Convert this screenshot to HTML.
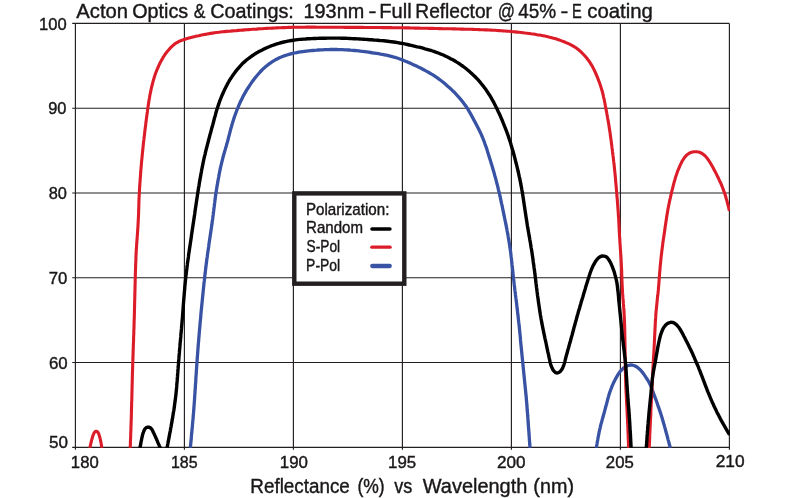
<!DOCTYPE html><html><head><meta charset="utf-8"><title>Acton Optics &amp; Coatings</title>
<style>html,body{margin:0;padding:0;background:#fff}svg{display:block;will-change:transform;transform:translateZ(0)}text{font-family:"Liberation Sans",sans-serif;fill:#1a1718;stroke:#1a1718;stroke-width:0.4px}</style></head><body>
<svg width="791" height="498" viewBox="0 0 791 498">
<rect width="791" height="498" fill="#fff"/>
<path d="M75.4 23.4 V449.7 M184.4 23.4 V449.7 M293.4 23.4 V449.7 M402.4 23.4 V449.7 M511.4 23.4 V449.7 M620.4 23.4 V449.7 M729.4 23.4 V449.7 M72.2 23.4 H729.4 M72.2 108.2 H729.4 M72.2 193.0 H729.4 M72.2 277.7 H729.4 M72.2 362.5 H729.4 M72.2 447.3 H729.4" fill="none" stroke="#231f20" stroke-width="1.15"/>
<defs><clipPath id="c"><rect x="73.4" y="20.4" width="656.6" height="427.3"/></clipPath></defs>
<g clip-path="url(#c)" fill="none" stroke-linejoin="round" stroke-linecap="butt">
<path d="M190.3 448.0L190.5 446.0L190.7 444.0L190.9 442.0L191.1 440.0L191.3 438.0L191.4 436.0L191.6 434.0L191.8 432.0L192.0 430.0L192.2 428.0L192.4 426.0L192.5 424.1L192.7 422.1L192.9 420.1L193.1 418.1L193.2 416.1L193.4 414.1L193.6 412.1L193.7 410.1L193.9 408.1L194.0 406.1L194.2 404.1L194.3 402.1L194.5 400.1L194.6 398.1L194.7 396.1L194.9 394.1L195.0 392.1L195.1 390.1L195.3 388.1L195.4 386.1L195.5 384.1L195.7 382.1L195.8 380.1L195.9 378.1L196.0 376.1L196.2 374.1L196.3 372.1L196.4 370.1L196.6 368.1L196.7 366.1L196.8 364.1L197.0 362.1L197.1 360.1L197.3 358.1L197.4 356.1L197.6 354.1L197.7 352.1L197.9 350.1L198.0 348.1L198.2 346.1L198.3 344.1L198.5 342.1L198.7 340.1L198.8 338.1L199.0 336.1L199.2 334.1L199.3 332.1L199.5 330.1L199.7 328.1L199.9 326.1L200.0 324.1L200.2 322.1L200.4 320.1L200.6 318.1L200.8 316.1L200.9 314.1L201.1 312.1L201.3 310.1L201.5 308.1L201.7 306.2L201.9 304.2L202.1 302.2L202.3 300.2L202.5 298.2L202.7 296.2L202.9 294.2L203.1 292.2L203.3 290.2L203.5 288.2L203.7 286.2L203.9 284.2L204.1 282.2L204.4 280.2L204.6 278.2L204.8 276.2L205.0 274.3L205.3 272.3L205.5 270.3L205.7 268.3L206.0 266.3L206.2 264.3L206.5 262.3L206.7 260.3L207.0 258.3L207.3 256.4L207.5 254.4L207.8 252.4L208.1 250.4L208.4 248.4L208.7 246.4L208.9 244.4L209.2 242.5L209.5 240.5L209.8 238.5L210.1 236.5L210.4 234.5L210.7 232.6L211.0 230.6L211.3 228.6L211.6 226.6L211.9 224.6L212.1 222.6L212.4 220.6L212.7 218.7L212.9 216.7L213.2 214.7L213.4 212.7L213.7 210.7L213.9 208.7L214.2 206.7L214.4 204.7L214.7 202.7L214.9 200.8L215.2 198.8L215.4 196.8L215.7 194.8L216.0 192.8L216.3 190.8L216.6 188.9L216.9 186.9L217.3 184.9L217.6 182.9L218.0 180.9L218.3 179.0L218.7 177.0L219.0 175.0L219.4 173.1L219.8 171.1L220.2 169.1L220.6 167.2L221.1 165.2L221.5 163.3L222.0 161.3L222.5 159.4L223.0 157.4L223.5 155.5L224.1 153.6L224.6 151.6L225.2 149.7L225.7 147.8L226.3 145.9L226.8 143.9L227.4 142.0L227.9 140.1L228.4 138.1L228.9 136.2L229.4 134.3L229.9 132.3L230.4 130.4L230.9 128.4L231.5 126.5L232.0 124.6L232.6 122.6L233.2 120.7L233.8 118.8L234.4 116.9L235.1 115.0L235.8 113.2L236.5 111.3L237.2 109.4L238.0 107.6L238.7 105.7L239.5 103.9L240.3 102.0L241.2 100.2L242.1 98.4L243.0 96.6L243.9 94.8L244.9 93.1L245.9 91.4L246.9 89.7L248.0 88.0L249.1 86.3L250.2 84.6L251.4 82.9L252.5 81.3L253.7 79.7L254.9 78.1L256.2 76.5L257.5 75.0L258.8 73.5L260.1 72.0L261.5 70.5L262.9 69.1L264.4 67.8L265.9 66.4L267.5 65.2L269.1 63.9L270.7 62.8L272.4 61.7L274.1 60.6L275.8 59.6L277.6 58.7L279.4 57.8L281.3 57.0L283.1 56.3L285.0 55.6L286.9 55.0L288.9 54.4L290.8 53.9L292.8 53.4L294.7 53.0L296.7 52.6L298.7 52.2L300.6 51.9L302.6 51.6L304.6 51.3L306.6 51.1L308.6 50.9L310.6 50.7L312.6 50.5L314.6 50.3L316.6 50.2L318.6 50.0L320.6 49.9L322.6 49.8L324.6 49.7L326.6 49.6L328.6 49.6L330.6 49.5L332.6 49.5L334.6 49.5L336.6 49.5L338.6 49.6L340.6 49.6L342.6 49.7L344.6 49.8L346.6 49.9L348.6 50.0L350.6 50.2L352.6 50.3L354.6 50.5L356.6 50.7L358.6 50.9L360.6 51.2L362.6 51.4L364.6 51.6L366.6 51.9L368.6 52.2L370.6 52.5L372.5 52.8L374.5 53.1L376.5 53.4L378.5 53.7L380.5 54.1L382.4 54.4L384.4 54.8L386.4 55.2L388.3 55.6L390.3 56.1L392.2 56.6L394.1 57.2L396.1 57.7L398.0 58.3L399.9 59.0L401.7 59.7L403.6 60.4L405.5 61.2L407.3 61.9L409.2 62.7L411.0 63.6L412.8 64.4L414.6 65.2L416.5 66.1L418.3 67.0L420.1 67.8L421.9 68.7L423.7 69.7L425.4 70.6L427.2 71.6L428.9 72.5L430.7 73.6L432.4 74.6L434.1 75.7L435.8 76.8L437.4 77.9L439.0 79.1L440.6 80.3L442.2 81.5L443.8 82.8L445.3 84.1L446.8 85.4L448.3 86.7L449.8 88.0L451.3 89.4L452.7 90.8L454.2 92.2L455.6 93.7L456.9 95.1L458.3 96.6L459.6 98.1L460.9 99.6L462.2 101.2L463.4 102.8L464.6 104.4L465.8 106.0L466.9 107.7L468.0 109.4L469.0 111.1L470.0 112.8L471.0 114.6L471.9 116.3L472.9 118.1L473.8 119.9L474.8 121.6L475.7 123.4L476.7 125.2L477.6 127.0L478.5 128.8L479.4 130.6L480.3 132.4L481.1 134.2L481.9 136.0L482.7 137.8L483.4 139.7L484.2 141.6L484.8 143.5L485.5 145.3L486.2 147.2L486.8 149.1L487.4 151.1L488.0 153.0L488.6 154.9L489.2 156.8L489.8 158.7L490.4 160.6L491.0 162.6L491.6 164.5L492.2 166.4L492.7 168.3L493.3 170.2L493.9 172.2L494.4 174.1L494.9 176.0L495.5 177.9L496.0 179.9L496.5 181.8L497.0 183.8L497.5 185.7L498.0 187.7L498.4 189.6L498.9 191.5L499.4 193.5L499.8 195.5L500.3 197.4L500.7 199.4L501.1 201.3L501.5 203.3L502.0 205.2L502.4 207.2L502.8 209.2L503.2 211.1L503.6 213.1L504.0 215.1L504.4 217.0L504.8 219.0L505.2 221.0L505.6 222.9L506.0 224.9L506.4 226.9L506.8 228.8L507.1 230.8L507.5 232.8L507.9 234.7L508.2 236.7L508.6 238.7L508.9 240.7L509.2 242.6L509.5 244.6L509.8 246.6L510.1 248.6L510.4 250.6L510.7 252.5L510.9 254.5L511.1 256.5L511.4 258.5L511.6 260.5L511.8 262.5L512.0 264.5L512.3 266.5L512.5 268.5L512.7 270.5L512.9 272.5L513.1 274.5L513.3 276.5L513.5 278.4L513.8 280.4L514.0 282.4L514.2 284.4L514.5 286.4L514.7 288.4L514.9 290.4L515.2 292.4L515.4 294.4L515.7 296.4L515.9 298.4L516.2 300.3L516.4 302.3L516.7 304.3L516.9 306.3L517.1 308.3L517.4 310.3L517.6 312.3L517.8 314.3L518.1 316.3L518.3 318.3L518.5 320.2L518.7 322.2L519.0 324.2L519.2 326.2L519.4 328.2L519.6 330.2L519.8 332.2L520.0 334.2L520.2 336.2L520.4 338.2L520.5 340.2L520.7 342.2L520.9 344.2L521.1 346.2L521.3 348.2L521.5 350.2L521.7 352.2L521.9 354.2L522.1 356.1L522.3 358.1L522.5 360.1L522.7 362.1L522.9 364.1L523.1 366.1L523.3 368.1L523.5 370.1L523.7 372.1L523.9 374.1L524.1 376.1L524.3 378.1L524.5 380.1L524.7 382.1L524.9 384.1L525.1 386.1L525.3 388.1L525.5 390.0L525.7 392.0L525.9 394.0L526.1 396.0L526.3 398.0L526.4 400.0L526.6 402.0L526.8 404.0L526.9 406.0L527.1 408.0L527.2 410.0L527.4 412.0L527.6 414.0L527.7 416.0L527.9 418.0L528.0 420.0L528.1 422.0L528.3 424.0L528.4 426.0L528.6 428.0L528.7 430.0L528.9 432.0L529.0 434.0L529.2 436.0L529.3 438.0L529.4 440.0L529.6 442.0L529.7 444.0L529.9 446.0L530.0 448.0" stroke="#3852a4" stroke-width="3.3"/>
<path d="M596.3 448.0L596.6 446.0L597.0 444.0L597.3 442.0L597.7 440.0L598.0 438.0L598.4 436.0L598.8 434.0L599.2 432.0L599.6 430.0L600.1 428.1L600.5 426.1L601.0 424.1L601.6 422.2L602.1 420.2L602.6 418.3L603.2 416.3L603.7 414.3L604.3 412.4L604.8 410.4L605.3 408.5L605.8 406.5L606.4 404.5L606.9 402.6L607.4 400.6L607.9 398.6L608.5 396.7L609.0 394.7L609.6 392.8L610.3 390.9L611.0 389.0L611.7 387.1L612.5 385.2L613.3 383.4L614.2 381.5L615.1 379.7L616.1 377.9L617.1 376.1L618.1 374.4L619.3 372.7L620.5 371.1L621.9 369.6L623.4 368.2L625.1 367.0L626.9 366.0L628.8 365.3L630.7 365.0L632.7 365.2L634.6 365.8L636.4 366.7L638.1 367.9L639.6 369.2L641.0 370.7L642.4 372.3L643.6 373.9L644.8 375.6L645.9 377.3L647.0 379.0L648.1 380.7L649.1 382.5L650.0 384.3L650.9 386.1L651.6 388.0L652.3 389.9L653.0 391.8L653.7 393.7L654.4 395.6L655.0 397.5L655.8 399.4L656.5 401.3L657.2 403.2L657.8 405.1L658.5 407.1L659.2 409.0L659.8 410.9L660.5 412.8L661.1 414.8L661.7 416.7L662.3 418.6L662.8 420.6L663.4 422.5L664.0 424.5L664.5 426.4L665.1 428.4L665.6 430.4L666.1 432.3L666.7 434.3L667.2 436.2L667.7 438.2L668.2 440.1L668.8 442.1L669.3 444.1L669.8 446.0L670.3 448.0" stroke="#3852a4" stroke-width="3.3"/>
<path d="M89.8 448.4L89.9 447.7L90.1 447.0L90.2 446.3L90.4 445.5L90.5 444.8L90.7 444.1L90.9 443.4L91.0 442.7L91.2 442.0L91.4 441.3L91.5 440.6L91.7 439.9L91.9 439.2L92.1 438.5L92.3 437.8L92.5 437.1L92.7 436.4L92.9 435.7L93.2 435.0L93.5 434.3L93.7 433.6L94.1 432.9L94.5 432.3L95.0 431.8L95.5 431.4L96.1 431.2L96.7 431.3L97.3 431.6L97.8 432.2L98.2 432.8L98.5 433.4L98.8 434.2L99.1 434.9L99.3 435.6L99.5 436.3L99.7 437.0L99.9 437.7L100.1 438.4L100.2 439.1L100.4 439.8L100.5 440.5L100.7 441.2L100.8 441.9L101.0 442.6L101.1 443.4L101.2 444.1L101.3 444.8L101.5 445.5L101.6 446.2L101.7 447.0L101.8 447.7L101.9 448.4" stroke="#dc1c28" stroke-width="3.1"/>
<path d="M130.2 448.0L130.3 446.0L130.4 444.0L130.4 442.0L130.5 440.0L130.6 438.0L130.7 436.0L130.7 434.0L130.8 432.0L130.9 430.0L130.9 428.0L131.0 426.0L131.1 423.9L131.1 421.9L131.2 419.9L131.3 417.9L131.3 415.9L131.4 413.9L131.4 411.9L131.5 409.9L131.5 407.9L131.6 405.9L131.6 403.9L131.7 401.9L131.8 399.9L131.8 397.9L131.9 395.9L131.9 393.9L132.0 391.9L132.0 389.9L132.1 387.9L132.1 385.9L132.2 383.9L132.2 381.8L132.3 379.8L132.3 377.8L132.4 375.8L132.4 373.8L132.5 371.8L132.6 369.8L132.6 367.8L132.7 365.8L132.7 363.8L132.8 361.8L132.9 359.8L132.9 357.8L133.0 355.8L133.1 353.8L133.1 351.8L133.2 349.8L133.3 347.8L133.3 345.8L133.4 343.8L133.5 341.8L133.6 339.8L133.6 337.8L133.7 335.7L133.8 333.7L133.8 331.7L133.9 329.7L134.0 327.7L134.0 325.7L134.1 323.7L134.1 321.7L134.2 319.7L134.3 317.7L134.3 315.7L134.4 313.7L134.4 311.7L134.5 309.7L134.5 307.7L134.6 305.7L134.6 303.7L134.7 301.7L134.7 299.7L134.8 297.7L134.8 295.7L134.9 293.6L134.9 291.6L135.0 289.6L135.0 287.6L135.1 285.6L135.1 283.6L135.2 281.6L135.2 279.6L135.3 277.6L135.3 275.6L135.4 273.6L135.4 271.6L135.5 269.6L135.6 267.6L135.6 265.6L135.7 263.6L135.8 261.6L135.9 259.6L135.9 257.6L136.0 255.6L136.1 253.6L136.2 251.6L136.3 249.6L136.5 247.5L136.6 245.5L136.7 243.5L136.9 241.5L137.0 239.5L137.2 237.5L137.3 235.5L137.5 233.5L137.6 231.5L137.7 229.5L137.9 227.5L138.0 225.5L138.1 223.5L138.2 221.5L138.3 219.5L138.4 217.5L138.5 215.5L138.6 213.5L138.6 211.5L138.7 209.5L138.8 207.5L138.8 205.5L138.9 203.5L138.9 201.5L139.0 199.5L139.1 197.5L139.2 195.5L139.3 193.5L139.4 191.5L139.5 189.5L139.6 187.5L139.8 185.5L139.9 183.5L140.0 181.5L140.2 179.5L140.3 177.5L140.5 175.5L140.6 173.5L140.8 171.5L140.9 169.5L141.1 167.5L141.3 165.5L141.4 163.5L141.6 161.5L141.8 159.5L142.0 157.5L142.2 155.5L142.4 153.5L142.6 151.5L142.8 149.5L143.0 147.5L143.2 145.5L143.4 143.5L143.6 141.5L143.9 139.5L144.1 137.5L144.4 135.6L144.6 133.6L144.8 131.6L145.1 129.6L145.3 127.6L145.6 125.6L145.8 123.6L146.1 121.6L146.3 119.6L146.6 117.6L146.8 115.7L147.1 113.7L147.4 111.7L147.6 109.7L147.9 107.7L148.2 105.7L148.5 103.7L148.8 101.7L149.1 99.8L149.5 97.8L149.8 95.8L150.2 93.8L150.6 91.9L151.0 89.9L151.4 88.0L151.9 86.0L152.4 84.0L152.9 82.1L153.4 80.2L154.0 78.3L154.6 76.3L155.2 74.4L155.9 72.5L156.6 70.7L157.4 68.8L158.2 67.0L159.0 65.1L159.9 63.3L160.8 61.6L161.8 59.8L162.8 58.0L163.8 56.3L164.9 54.7L166.1 53.0L167.3 51.4L168.6 49.9L169.9 48.4L171.4 46.9L172.8 45.6L174.4 44.3L176.0 43.1L177.8 42.1L179.5 41.2L181.4 40.4L183.3 39.8L185.2 39.2L187.1 38.6L189.1 38.0L191.0 37.5L193.0 37.0L194.9 36.6L196.9 36.1L198.8 35.7L200.8 35.2L202.7 34.8L204.7 34.4L206.7 34.1L208.7 33.7L210.6 33.4L212.6 33.1L214.6 32.8L216.6 32.5L218.6 32.3L220.6 32.0L222.6 31.8L224.6 31.6L226.6 31.4L228.5 31.2L230.5 31.1L232.5 30.9L234.5 30.7L236.5 30.6L238.5 30.4L240.5 30.3L242.5 30.1L244.5 29.9L246.5 29.8L248.5 29.6L250.5 29.5L252.5 29.3L254.5 29.2L256.5 29.1L258.5 28.9L260.5 28.8L262.5 28.7L264.5 28.5L266.6 28.4L268.6 28.3L270.6 28.2L272.6 28.1L274.6 28.0L276.6 27.9L278.6 27.8L280.6 27.7L282.6 27.6L284.6 27.6L286.6 27.5L288.6 27.4L290.6 27.4L292.6 27.3L294.6 27.3L296.6 27.2L298.6 27.2L300.6 27.2L302.6 27.2L304.6 27.2L306.6 27.1L308.6 27.1L310.6 27.1L312.7 27.1L314.7 27.1L316.7 27.2L318.7 27.2L320.7 27.2L322.7 27.2L324.7 27.2L326.7 27.2L328.7 27.2L330.7 27.3L332.7 27.3L334.7 27.3L336.7 27.3L338.7 27.3L340.7 27.3L342.7 27.3L344.7 27.4L346.7 27.4L348.8 27.4L350.8 27.4L352.8 27.4L354.8 27.4L356.8 27.4L358.8 27.4L360.8 27.4L362.8 27.4L364.8 27.5L366.8 27.5L368.8 27.5L370.8 27.5L372.8 27.5L374.8 27.5L376.8 27.5L378.8 27.5L380.8 27.5L382.8 27.6L384.9 27.6L386.9 27.6L388.9 27.6L390.9 27.6L392.9 27.7L394.9 27.7L396.9 27.7L398.9 27.8L400.9 27.8L402.9 27.8L404.9 27.9L406.9 27.9L408.9 27.9L410.9 28.0L412.9 28.0L414.9 28.1L416.9 28.1L418.9 28.1L420.9 28.2L423.0 28.2L425.0 28.3L427.0 28.3L429.0 28.4L431.0 28.4L433.0 28.4L435.0 28.5L437.0 28.5L439.0 28.6L441.0 28.6L443.0 28.7L445.0 28.7L447.0 28.7L449.0 28.8L451.0 28.8L453.0 28.9L455.0 28.9L457.0 29.0L459.0 29.0L461.0 29.1L463.1 29.1L465.1 29.2L467.1 29.2L469.1 29.3L471.1 29.3L473.1 29.4L475.1 29.5L477.1 29.5L479.1 29.6L481.1 29.7L483.1 29.8L485.1 29.9L487.1 29.9L489.1 30.0L491.1 30.1L493.1 30.2L495.1 30.3L497.1 30.5L499.1 30.6L501.1 30.7L503.1 30.9L505.1 31.0L507.1 31.2L509.1 31.3L511.1 31.5L513.1 31.7L515.1 31.9L517.1 32.1L519.1 32.3L521.1 32.5L523.1 32.7L525.1 33.0L527.1 33.2L529.1 33.5L531.0 33.8L533.0 34.0L535.0 34.3L537.0 34.7L539.0 35.0L541.0 35.3L542.9 35.7L544.9 36.1L546.9 36.5L548.8 37.0L550.8 37.4L552.7 38.0L554.6 38.5L556.6 39.1L558.5 39.7L560.4 40.4L562.2 41.1L564.1 41.8L566.0 42.6L567.8 43.4L569.6 44.2L571.4 45.1L573.2 46.1L574.9 47.1L576.6 48.3L578.2 49.5L579.7 50.7L581.2 52.1L582.6 53.5L584.0 55.0L585.4 56.5L586.7 58.0L587.9 59.6L589.1 61.2L590.2 62.9L591.3 64.6L592.3 66.3L593.2 68.1L594.1 69.9L595.0 71.7L595.8 73.5L596.6 75.4L597.4 77.2L598.1 79.1L598.8 81.0L599.5 82.8L600.2 84.7L600.8 86.6L601.4 88.6L602.0 90.5L602.5 92.4L603.0 94.4L603.4 96.3L603.9 98.3L604.3 100.2L604.7 102.2L605.1 104.2L605.4 106.1L605.8 108.1L606.2 110.1L606.6 112.1L606.9 114.0L607.3 116.0L607.6 118.0L608.0 120.0L608.3 121.9L608.7 123.9L609.0 125.9L609.3 127.9L609.6 129.9L609.9 131.8L610.2 133.8L610.4 135.8L610.7 137.8L611.0 139.8L611.3 141.8L611.5 143.8L611.8 145.7L612.0 147.7L612.3 149.7L612.5 151.7L612.8 153.7L613.0 155.7L613.3 157.7L613.5 159.7L613.7 161.7L614.0 163.7L614.2 165.7L614.4 167.7L614.6 169.6L614.8 171.6L615.0 173.6L615.2 175.6L615.4 177.6L615.6 179.6L615.7 181.6L615.9 183.6L616.1 185.6L616.3 187.6L616.4 189.6L616.6 191.6L616.8 193.6L616.9 195.6L617.1 197.6L617.3 199.6L617.4 201.6L617.6 203.6L617.7 205.6L617.9 207.6L618.0 209.6L618.2 211.6L618.3 213.6L618.4 215.6L618.6 217.6L618.7 219.6L618.8 221.6L618.9 223.6L619.0 225.6L619.1 227.6L619.2 229.6L619.3 231.6L619.4 233.6L619.5 235.6L619.7 237.6L619.8 239.6L619.9 241.6L620.0 243.6L620.2 245.6L620.3 247.6L620.4 249.6L620.6 251.6L620.7 253.6L620.8 255.7L621.0 257.7L621.1 259.7L621.2 261.7L621.3 263.7L621.4 265.7L621.5 267.7L621.6 269.7L621.7 271.7L621.7 273.7L621.8 275.7L621.9 277.7L621.9 279.7L622.0 281.7L622.1 283.7L622.2 285.7L622.3 287.7L622.4 289.7L622.5 291.7L622.6 293.7L622.8 295.7L622.9 297.7L623.1 299.7L623.3 301.7L623.4 303.7L623.6 305.7L623.7 307.7L623.9 309.7L624.0 311.7L624.1 313.7L624.2 315.7L624.3 317.7L624.4 319.7L624.5 321.7L624.5 323.7L624.6 325.7L624.7 327.7L624.7 329.7L624.8 331.7L624.8 333.8L624.8 335.8L624.9 337.8L624.9 339.8L624.9 341.8L625.0 343.8L625.0 345.8L625.0 347.8L625.0 349.8L625.1 351.8L625.1 353.8L625.1 355.8L625.2 357.8L625.2 359.8L625.2 361.8L625.3 363.8L625.3 365.8L625.3 367.9L625.4 369.9L625.4 371.9L625.5 373.9L625.5 375.9L625.6 377.9L625.6 379.9L625.7 381.9L625.8 383.9L625.8 385.9L625.9 387.9L626.0 389.9L626.1 391.9L626.2 393.9L626.3 395.9L626.4 397.9L626.5 399.9L626.6 401.9L626.7 403.9L626.8 405.9L626.9 407.9L627.0 409.9L627.1 411.9L627.2 413.9L627.3 415.9L627.4 417.9L627.5 419.9L627.6 421.9L627.7 424.0L627.8 426.0L627.9 428.0L627.9 430.0L628.0 432.0L628.1 434.0L628.2 436.0L628.2 438.0L628.3 440.0L628.4 442.0L628.5 444.0L628.5 446.0L628.6 448.0" stroke="#dc1c28" stroke-width="3.1"/>
<path d="M649.2 448.0L649.3 446.0L649.4 444.0L649.5 442.0L649.6 440.0L649.7 437.9L649.7 435.9L649.8 433.9L649.9 431.9L650.0 429.9L650.1 427.9L650.2 425.9L650.3 423.9L650.4 421.9L650.5 419.9L650.6 417.8L650.7 415.8L650.8 413.8L650.8 411.8L650.9 409.8L651.0 407.8L651.1 405.8L651.2 403.8L651.3 401.8L651.4 399.8L651.5 397.7L651.6 395.7L651.7 393.7L651.8 391.7L651.9 389.7L652.0 387.7L652.1 385.7L652.2 383.7L652.3 381.7L652.4 379.7L652.5 377.7L652.6 375.6L652.7 373.6L652.8 371.6L652.9 369.6L653.0 367.6L653.1 365.6L653.2 363.6L653.3 361.6L653.4 359.6L653.5 357.6L653.7 355.5L653.8 353.5L653.9 351.5L654.0 349.5L654.1 347.5L654.2 345.5L654.3 343.5L654.4 341.5L654.5 339.5L654.6 337.5L654.7 335.5L654.8 333.4L654.9 331.4L655.0 329.4L655.1 327.4L655.2 325.4L655.3 323.4L655.4 321.4L655.5 319.4L655.7 317.4L655.8 315.4L655.9 313.4L656.1 311.3L656.3 309.3L656.5 307.3L656.7 305.3L656.9 303.3L657.1 301.3L657.3 299.3L657.5 297.3L657.8 295.3L658.0 293.3L658.2 291.3L658.4 289.3L658.5 287.3L658.7 285.3L658.9 283.3L659.0 281.3L659.2 279.3L659.3 277.3L659.5 275.3L659.6 273.3L659.8 271.3L660.0 269.3L660.1 267.3L660.3 265.3L660.5 263.3L660.7 261.3L660.9 259.3L661.1 257.3L661.3 255.3L661.6 253.3L661.8 251.3L662.1 249.3L662.3 247.3L662.6 245.3L662.8 243.3L663.1 241.3L663.4 239.3L663.7 237.3L664.0 235.3L664.3 233.3L664.6 231.3L664.9 229.3L665.1 227.3L665.4 225.4L665.7 223.4L666.0 221.4L666.3 219.4L666.6 217.4L666.9 215.4L667.3 213.4L667.6 211.4L667.9 209.4L668.3 207.5L668.7 205.5L669.1 203.5L669.5 201.6L669.9 199.6L670.4 197.6L670.8 195.7L671.3 193.7L671.7 191.7L672.2 189.8L672.7 187.8L673.2 185.9L673.7 183.9L674.2 182.0L674.8 180.0L675.3 178.1L675.9 176.2L676.6 174.3L677.2 172.4L677.9 170.5L678.7 168.6L679.5 166.8L680.3 164.9L681.2 163.1L682.1 161.3L683.2 159.5L684.3 157.8L685.6 156.2L687.0 154.8L688.6 153.7L690.4 152.7L692.4 152.1L694.3 151.7L696.4 151.7L698.4 152.0L700.3 152.6L702.1 153.5L703.7 154.7L705.2 156.0L706.6 157.5L707.8 159.1L709.0 160.8L710.1 162.5L711.1 164.2L712.1 166.0L713.1 167.8L714.0 169.6L714.9 171.3L715.9 173.1L716.8 174.9L717.7 176.7L718.6 178.5L719.4 180.4L720.3 182.2L721.1 184.0L721.9 185.9L722.6 187.7L723.3 189.6L724.0 191.5L724.7 193.4L725.3 195.3L725.9 197.3L726.4 199.2L727.0 201.1L727.5 203.1L728.0 205.0L728.5 207.0L728.9 208.9L729.4 210.9" stroke="#dc1c28" stroke-width="3.1"/>
<path d="M139.9 448.4L140.0 447.7L140.1 447.0L140.3 446.3L140.4 445.6L140.5 444.9L140.7 444.2L140.8 443.5L140.9 442.8L141.0 442.1L141.2 441.4L141.3 440.7L141.5 440.0L141.6 439.3L141.7 438.6L141.9 437.9L142.0 437.2L142.2 436.5L142.4 435.8L142.5 435.1L142.7 434.4L142.9 433.7L143.1 433.0L143.4 432.3L143.6 431.7L143.9 431.0L144.2 430.3L144.5 429.6L144.9 429.0L145.3 428.5L145.9 428.0L146.4 427.6L147.1 427.3L147.8 427.1L148.5 427.1L149.2 427.2L149.8 427.5L150.4 427.9L151.0 428.4L151.5 428.9L151.9 429.5L152.3 430.1L152.6 430.7L152.9 431.4L153.2 432.1L153.6 432.7L153.9 433.4L154.2 434.0L154.5 434.7L154.8 435.3L155.1 436.0L155.4 436.6L155.7 437.3L155.9 437.9L156.2 438.6L156.5 439.2L156.8 439.9L157.1 440.5L157.4 441.2L157.6 441.8L157.9 442.5L158.2 443.2L158.5 443.8L158.8 444.5L159.1 445.1L159.3 445.8L159.6 446.4L159.9 447.1L160.2 447.7L160.5 448.4" stroke="#000" stroke-width="3.4"/>
<path d="M167.0 448.0L167.4 446.0L167.8 444.1L168.1 442.1L168.5 440.1L168.9 438.2L169.3 436.2L169.6 434.2L170.0 432.3L170.4 430.3L170.7 428.3L171.1 426.3L171.4 424.4L171.8 422.4L172.1 420.4L172.5 418.4L172.8 416.5L173.1 414.5L173.4 412.5L173.8 410.5L174.1 408.5L174.4 406.6L174.6 404.6L174.9 402.6L175.2 400.6L175.4 398.6L175.7 396.6L175.9 394.6L176.1 392.7L176.3 390.7L176.5 388.7L176.7 386.7L176.8 384.7L177.0 382.7L177.2 380.7L177.3 378.7L177.5 376.7L177.6 374.7L177.8 372.7L177.9 370.7L178.1 368.7L178.2 366.7L178.4 364.7L178.5 362.7L178.7 360.7L178.9 358.7L179.0 356.7L179.2 354.7L179.4 352.7L179.5 350.7L179.7 348.7L179.9 346.7L180.0 344.7L180.2 342.7L180.4 340.7L180.6 338.7L180.8 336.7L180.9 334.7L181.1 332.7L181.3 330.7L181.5 328.7L181.6 326.8L181.8 324.8L182.0 322.8L182.1 320.8L182.3 318.8L182.5 316.8L182.6 314.8L182.8 312.8L182.9 310.8L183.1 308.8L183.2 306.8L183.4 304.8L183.5 302.8L183.7 300.8L183.8 298.8L184.0 296.8L184.2 294.8L184.3 292.8L184.5 290.8L184.7 288.8L184.8 286.8L185.0 284.8L185.2 282.8L185.4 280.8L185.6 278.8L185.8 276.8L186.1 274.8L186.3 272.9L186.5 270.9L186.8 268.9L187.0 266.9L187.3 264.9L187.5 262.9L187.8 260.9L188.1 258.9L188.4 257.0L188.6 255.0L188.9 253.0L189.2 251.0L189.5 249.0L189.8 247.0L190.1 245.1L190.4 243.1L190.7 241.1L191.0 239.1L191.3 237.1L191.5 235.1L191.8 233.2L192.1 231.2L192.4 229.2L192.7 227.2L193.0 225.2L193.3 223.3L193.6 221.3L193.9 219.3L194.2 217.3L194.5 215.3L194.8 213.3L195.0 211.4L195.3 209.4L195.6 207.4L195.9 205.4L196.2 203.4L196.5 201.4L196.8 199.5L197.1 197.5L197.4 195.5L197.7 193.5L198.0 191.5L198.3 189.6L198.6 187.6L199.0 185.6L199.3 183.6L199.6 181.6L200.0 179.7L200.3 177.7L200.7 175.7L201.0 173.7L201.4 171.8L201.7 169.8L202.1 167.8L202.5 165.9L202.9 163.9L203.3 161.9L203.7 160.0L204.1 158.0L204.6 156.1L205.1 154.1L205.5 152.2L206.0 150.2L206.5 148.3L207.0 146.3L207.5 144.4L208.0 142.5L208.5 140.5L209.0 138.6L209.5 136.7L210.0 134.7L210.6 132.8L211.1 130.8L211.6 128.9L212.1 127.0L212.7 125.0L213.2 123.1L213.7 121.2L214.2 119.2L214.7 117.3L215.3 115.4L215.8 113.4L216.3 111.5L216.9 109.6L217.5 107.7L218.1 105.8L218.8 103.9L219.4 102.0L220.1 100.1L220.9 98.2L221.6 96.4L222.4 94.5L223.2 92.7L224.0 90.9L224.9 89.1L225.8 87.3L226.7 85.5L227.6 83.7L228.6 82.0L229.6 80.2L230.7 78.5L231.8 76.9L232.9 75.2L234.1 73.6L235.3 71.9L236.5 70.4L237.8 68.8L239.1 67.3L240.4 65.8L241.8 64.3L243.2 62.9L244.7 61.6L246.2 60.3L247.8 59.0L249.4 57.8L251.0 56.6L252.6 55.5L254.3 54.4L256.0 53.3L257.8 52.3L259.5 51.3L261.3 50.4L263.1 49.5L264.9 48.6L266.7 47.8L268.6 47.0L270.4 46.2L272.3 45.5L274.2 44.8L276.1 44.2L278.0 43.6L279.9 43.0L281.9 42.5L283.8 42.0L285.8 41.6L287.7 41.2L289.7 40.8L291.7 40.5L293.6 40.2L295.6 39.9L297.6 39.6L299.6 39.4L301.6 39.3L303.6 39.1L305.6 39.0L307.6 38.8L309.6 38.7L311.6 38.6L313.6 38.5L315.6 38.5L317.6 38.4L319.6 38.3L321.6 38.3L323.6 38.2L325.6 38.2L327.7 38.1L329.7 38.1L331.7 38.1L333.7 38.1L335.7 38.1L337.7 38.1L339.7 38.1L341.7 38.2L343.7 38.2L345.7 38.3L347.7 38.4L349.7 38.5L351.7 38.6L353.7 38.7L355.7 38.8L357.7 38.9L359.7 39.0L361.7 39.1L363.7 39.2L365.7 39.4L367.7 39.5L369.7 39.7L371.7 39.8L373.7 40.0L375.7 40.1L377.7 40.3L379.7 40.5L381.7 40.6L383.7 40.8L385.7 41.0L387.7 41.2L389.7 41.5L391.6 41.7L393.6 42.0L395.6 42.3L397.6 42.6L399.6 43.0L401.5 43.3L403.5 43.7L405.5 44.1L407.4 44.5L409.4 45.0L411.3 45.4L413.3 45.8L415.2 46.3L417.2 46.8L419.1 47.2L421.1 47.7L423.0 48.2L425.0 48.8L426.9 49.3L428.8 49.8L430.7 50.4L432.6 51.0L434.5 51.7L436.4 52.3L438.3 53.0L440.2 53.8L442.0 54.5L443.9 55.3L445.7 56.2L447.5 57.0L449.3 57.9L451.1 58.9L452.9 59.8L454.6 60.8L456.3 61.9L458.0 62.9L459.7 64.0L461.3 65.2L463.0 66.3L464.6 67.5L466.2 68.8L467.7 70.0L469.2 71.3L470.8 72.7L472.2 74.0L473.7 75.4L475.1 76.8L476.5 78.2L477.9 79.7L479.2 81.2L480.5 82.7L481.8 84.3L483.1 85.8L484.3 87.4L485.5 89.0L486.6 90.7L487.7 92.3L488.8 94.0L489.9 95.7L490.9 97.4L491.9 99.2L492.9 100.9L493.9 102.7L494.8 104.5L495.7 106.3L496.6 108.0L497.5 109.9L498.3 111.7L499.2 113.5L500.0 115.3L500.8 117.2L501.6 119.0L502.4 120.8L503.1 122.7L503.9 124.6L504.6 126.4L505.4 128.3L506.1 130.1L506.8 132.0L507.5 133.9L508.2 135.8L508.8 137.7L509.4 139.6L510.1 141.5L510.7 143.4L511.2 145.3L511.8 147.2L512.4 149.2L512.9 151.1L513.5 153.0L514.0 155.0L514.5 156.9L515.0 158.8L515.5 160.8L516.0 162.7L516.5 164.7L517.0 166.6L517.5 168.6L517.9 170.5L518.4 172.5L518.8 174.4L519.2 176.4L519.7 178.3L520.1 180.3L520.5 182.3L520.8 184.2L521.2 186.2L521.6 188.2L521.9 190.1L522.3 192.1L522.6 194.1L522.9 196.1L523.2 198.0L523.5 200.0L523.8 202.0L524.1 204.0L524.4 206.0L524.7 208.0L525.0 209.9L525.3 211.9L525.6 213.9L525.9 215.9L526.2 217.9L526.5 219.8L526.8 221.8L527.1 223.8L527.4 225.8L527.8 227.8L528.1 229.7L528.4 231.7L528.8 233.7L529.1 235.7L529.5 237.6L529.8 239.6L530.2 241.6L530.5 243.6L530.8 245.5L531.1 247.5L531.5 249.5L531.8 251.5L532.1 253.4L532.4 255.4L532.7 257.4L533.0 259.4L533.2 261.4L533.5 263.4L533.8 265.4L534.0 267.3L534.3 269.3L534.6 271.3L534.8 273.3L535.1 275.3L535.3 277.3L535.6 279.3L535.8 281.3L536.0 283.2L536.3 285.2L536.5 287.2L536.8 289.2L537.0 291.2L537.3 293.2L537.5 295.2L537.8 297.2L538.1 299.1L538.3 301.1L538.6 303.1L538.9 305.1L539.2 307.1L539.5 309.1L539.8 311.0L540.1 313.0L540.4 315.0L540.8 317.0L541.1 319.0L541.5 320.9L541.8 322.9L542.2 324.9L542.6 326.9L543.0 328.8L543.4 330.8L543.8 332.8L544.2 334.7L544.6 336.7L545.0 338.6L545.5 340.6L545.9 342.5L546.3 344.5L546.7 346.4L547.1 348.3L547.5 350.3L547.9 352.2L548.4 354.2L548.8 356.2L549.2 358.2L549.7 360.2L550.1 362.2L550.6 364.2L551.3 366.2L552.1 368.1L553.0 369.9L554.3 371.5L555.7 372.6L557.3 373.0L558.9 372.5L560.4 371.3L561.6 369.8L562.6 368.1L563.4 366.2L564.1 364.2L564.7 362.1L565.2 360.1L565.7 358.0L566.2 356.1L566.8 354.1L567.3 352.2L567.8 350.2L568.4 348.3L568.9 346.4L569.4 344.5L570.0 342.6L570.5 340.7L571.0 338.8L571.5 336.9L572.1 335.0L572.6 333.0L573.1 331.1L573.6 329.2L574.1 327.2L574.7 325.3L575.2 323.3L575.7 321.4L576.3 319.4L576.8 317.5L577.3 315.6L577.9 313.7L578.4 311.7L579.0 309.8L579.6 307.9L580.1 306.0L580.7 304.0L581.2 302.1L581.8 300.2L582.4 298.3L583.0 296.4L583.5 294.4L584.1 292.5L584.7 290.6L585.3 288.7L585.8 286.7L586.4 284.8L587.0 282.9L587.6 281.0L588.2 279.1L588.8 277.2L589.4 275.3L590.0 273.4L590.7 271.5L591.4 269.6L592.2 267.8L593.0 265.9L594.0 264.1L595.0 262.3L596.2 260.5L597.5 258.9L598.9 257.5L600.6 256.5L602.4 256.0L604.2 256.1L606.0 256.7L607.5 257.9L608.7 259.5L609.8 261.3L610.8 263.2L611.6 265.1L612.4 266.9L613.1 268.8L613.8 270.7L614.4 272.6L614.9 274.5L615.5 276.5L615.9 278.4L616.4 280.4L616.8 282.3L617.1 284.3L617.4 286.3L617.6 288.3L617.8 290.3L618.1 292.3L618.3 294.3L618.5 296.3L618.6 298.3L618.8 300.3L619.0 302.2L619.2 304.2L619.4 306.2L619.6 308.2L619.8 310.2L620.0 312.2L620.2 314.2L620.4 316.2L620.6 318.2L620.8 320.2L621.0 322.2L621.2 324.2L621.4 326.2L621.6 328.2L621.8 330.2L622.0 332.2L622.2 334.2L622.4 336.2L622.6 338.1L622.8 340.1L623.1 342.1L623.3 344.1L623.5 346.1L623.8 348.1L624.0 350.1L624.3 352.1L624.5 354.1L624.7 356.0L625.0 358.0L625.2 360.0L625.4 362.0L625.6 364.0L625.7 366.0L625.9 368.0L626.0 370.0L626.2 372.0L626.3 374.0L626.4 376.0L626.6 378.0L626.7 380.0L626.8 382.0L626.9 384.0L627.0 386.0L627.2 388.0L627.3 390.0L627.4 392.0L627.6 394.0L627.7 396.0L627.9 398.0L628.0 400.0L628.2 402.0L628.3 404.0L628.5 406.0L628.7 408.0L628.8 410.0L629.0 412.0L629.1 414.0L629.2 416.0L629.4 418.0L629.5 420.0L629.7 422.0L629.8 424.0L629.9 426.0L630.0 428.0L630.1 430.0L630.2 432.0L630.4 434.0L630.5 436.0L630.6 438.0L630.7 440.0L630.8 442.0L630.9 444.0L631.0 446.0L631.1 448.0" stroke="#000" stroke-width="3.4"/>
<path d="M646.3 448.0L646.4 446.0L646.6 444.0L646.7 442.0L646.9 440.0L647.0 437.9L647.1 435.9L647.3 433.9L647.4 431.9L647.6 429.9L647.7 427.9L647.9 425.9L648.1 423.9L648.2 421.9L648.4 419.8L648.6 417.8L648.8 415.8L648.9 413.8L649.1 411.8L649.3 409.8L649.5 407.8L649.7 405.8L649.9 403.8L650.1 401.8L650.3 399.8L650.5 397.8L650.7 395.8L650.9 393.8L651.1 391.7L651.3 389.7L651.5 387.7L651.7 385.7L651.9 383.7L652.1 381.7L652.3 379.7L652.5 377.7L652.8 375.7L653.1 373.7L653.4 371.7L653.8 369.7L654.1 367.8L654.5 365.8L654.9 363.8L655.3 361.8L655.6 359.8L656.0 357.8L656.3 355.8L656.7 353.9L657.0 351.9L657.4 349.9L657.7 347.9L658.1 345.9L658.5 344.0L658.9 342.0L659.3 340.0L659.8 338.0L660.3 336.1L660.9 334.1L661.6 332.2L662.3 330.3L663.2 328.4L664.3 326.7L665.6 325.1L667.1 323.8L668.9 322.8L670.7 322.3L672.6 322.4L674.4 323.1L676.0 324.3L677.4 325.7L678.7 327.3L679.9 329.0L681.0 330.8L682.0 332.6L683.0 334.4L683.9 336.2L684.8 337.9L685.7 339.7L686.6 341.5L687.5 343.3L688.4 345.1L689.3 346.9L690.2 348.7L691.1 350.6L692.0 352.4L692.8 354.2L693.6 356.1L694.4 357.9L695.2 359.8L696.0 361.6L696.8 363.5L697.6 365.3L698.4 367.2L699.1 369.1L699.9 370.9L700.6 372.8L701.3 374.7L702.1 376.6L702.8 378.5L703.5 380.3L704.2 382.2L704.9 384.1L705.6 386.0L706.4 387.9L707.1 389.8L707.8 391.6L708.6 393.5L709.4 395.4L710.1 397.2L710.9 399.1L711.7 400.9L712.5 402.8L713.4 404.6L714.2 406.5L715.1 408.3L716.0 410.1L716.8 411.9L717.7 413.7L718.7 415.5L719.6 417.3L720.5 419.1L721.5 420.8L722.5 422.6L723.5 424.4L724.5 426.1L725.5 427.9L726.5 429.6L727.5 431.3L728.6 433.1L729.6 434.8" stroke="#000" stroke-width="3.4"/>
</g>
<rect x="294.3" y="193.4" width="110" height="90.3" fill="#fff" stroke="#231f20" stroke-width="4.4"/>
<g fill="none" stroke-linecap="round">
<path d="M372 229H389.9" stroke="#000" stroke-width="3.6"/>
<path d="M371.8 247.2H390.1" stroke="#dc1c28" stroke-width="3.2"/>
<path d="M372.3 266H389.7" stroke="#3852a4" stroke-width="4.3"/>
</g>
<text transform="translate(76.30 17.50) scale(0.9967 1)" font-size="20.3">Acton</text>
<text transform="translate(132.27 17.50) scale(0.9724 1)" font-size="20.3">Optics</text>
<text transform="translate(193.86 17.50) scale(0.8591 1)" font-size="20.3">&amp;</text>
<text transform="translate(210.17 17.50) scale(0.9762 1)" font-size="20.3">Coatings:</text>
<text transform="translate(303.56 17.50) scale(0.9774 1)" font-size="20.3">193nm</text>
<text transform="translate(368.46 17.50) scale(1.1684 1)" font-size="20.3">-</text>
<text transform="translate(379.33 17.50) scale(0.9904 1)" font-size="20.3">Full</text>
<text transform="translate(415.30 17.50) scale(0.9441 1)" font-size="20.3">Reflector</text>
<text transform="translate(497.77 17.50) scale(0.8369 1)" font-size="20.3">@</text>
<text transform="translate(518.20 17.50) scale(0.9368 1)" font-size="20.3">45%</text>
<text transform="translate(560.47 17.50) scale(1.1498 1)" font-size="20.3">-</text>
<text transform="translate(572.06 17.50) scale(0.7206 1)" font-size="20.3">E</text>
<text transform="translate(587.36 17.50) scale(1.0018 1)" font-size="20.3">coating</text>
<text transform="translate(250.33 492.50) scale(0.9249 1)" font-size="20.4">Reflectance</text>
<text transform="translate(357.48 492.50) scale(0.8582 1)" font-size="20.4">(%)</text>
<text transform="translate(394.30 492.50) scale(0.8855 1)" font-size="20.4">vs</text>
<text transform="translate(422.80 492.50) scale(0.9780 1)" font-size="20.4">Wavelength</text>
<text transform="translate(533.37 492.50) scale(0.9696 1)" font-size="20.4">(nm)</text>
<text transform="translate(305.91 214.50) scale(0.9610 1)" font-size="15.8">Polarization:</text>
<text transform="translate(306.02 232.90) scale(0.9537 1)" font-size="15.8">Random</text>
<text transform="translate(306.57 252.30) scale(0.8679 1)" font-size="15.8">S-Pol</text>
<text transform="translate(306.11 271.20) scale(0.8801 1)" font-size="15.8">P-Pol</text>
<text transform="translate(39.06 29.60) scale(1.0043 1)" font-size="16.5">100</text>
<text transform="translate(48.23 113.90) scale(0.9960 1)" font-size="16.5">90</text>
<text transform="translate(48.69 198.80) scale(0.9927 1)" font-size="16.5">80</text>
<text transform="translate(48.72 283.70) scale(1.0135 1)" font-size="16.5">70</text>
<text transform="translate(48.91 368.50) scale(1.0193 1)" font-size="16.5">60</text>
<text transform="translate(48.97 447.60) scale(1.0329 1)" font-size="16.5">50</text>
<text transform="translate(70.86 467.80) scale(1.0120 1)" font-size="16.5">180</text>
<text transform="translate(170.90 467.70) scale(0.9718 1)" font-size="16.5">185</text>
<text transform="translate(279.74 467.90) scale(1.0235 1)" font-size="16.5">190</text>
<text transform="translate(388.05 467.90) scale(1.0221 1)" font-size="16.5">195</text>
<text transform="translate(497.10 467.80) scale(1.0362 1)" font-size="16.5">200</text>
<text transform="translate(605.81 467.60) scale(1.0158 1)" font-size="16.5">205</text>
<text transform="translate(715.69 466.50) scale(1.0514 1)" font-size="16.5">210</text>
</svg></body></html>
